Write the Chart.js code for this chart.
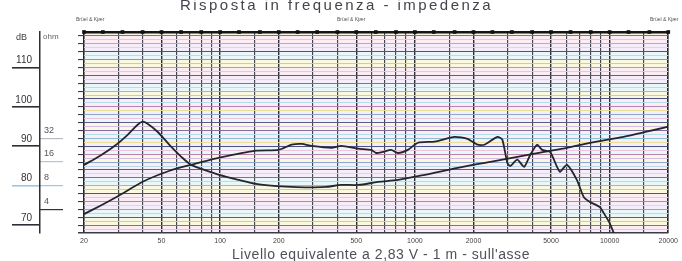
<!DOCTYPE html>
<html><head><meta charset="utf-8">
<script src="https://cdn.jsdelivr.net/npm/chart.js@4.4.0/dist/chart.umd.min.js"></script>
<style>
html,body{margin:0;padding:0;background:#fff;overflow:hidden}
#wrap{position:relative;width:682px;height:261px;overflow:hidden}
canvas{position:absolute;left:0;top:0}
.t{position:absolute;white-space:nowrap;font-family:"Liberation Sans",Arial,sans-serif;color:#3c3c44;line-height:1}
</style></head><body>
<div id="wrap">
<canvas id="c" width="682" height="261"></canvas>
<div class="t" id="title" data-w="313" style="left:180px;top:-3px;font-size:15px;color:#44444c">Risposta in frequenza - impedenza</div>
<div class="t" id="cap" data-w="298" style="left:232px;top:247px;font-size:14px;color:#505058">Livello equivalente a 2,83 V - 1 m - sull'asse</div>
<div class="t" style="left:16px;top:33px;font-size:9px">dB</div>
<div class="t" style="left:43px;top:33px;font-size:8px;color:#666">ohm</div>
<div class="t" style="left:76px;top:17px;font-size:5px;color:#555">Brüel &amp; Kjær</div>
<div class="t" style="left:337px;top:17px;font-size:5px;color:#555">Brüel &amp; Kjær</div>
<div class="t" style="left:650px;top:17px;font-size:5px;color:#555">Brüel &amp; Kjær</div>
</div>
<script>
// ---- data ----
const freqSPL = [20, 24, 30, 40, 55, 71, 99, 153, 200, 233, 263, 295, 373, 419, 512, 597, 632, 687, 755, 819, 920, 1036, 1264, 1600, 1864, 2097, 2276, 2651, 2812, 2981, 3090, 3354, 3641, 3908, 4242, 4498, 4944, 5366, 5558, 6036, 6786, 7366, 7908, 8892, 9316, 10000, 10604];
const splDb   = [72.8, 74.8, 77.4, 81.0, 83.8, 85.3, 87.1, 88.9, 89.1, 90.4, 90.6, 90.1, 89.6, 90.1, 89.4, 89.1, 88.3, 88.6, 89.1, 88.3, 89.1, 90.9, 91.2, 92.4, 91.9, 90.4, 90.4, 92.4, 91.7, 85.8, 85.0, 86.6, 84.8, 87.8, 90.4, 89.1, 88.6, 84.8, 83.5, 85.3, 81.5, 77.1, 75.9, 74.6, 73.1, 70.5, 67.5];
const freqZ   = [20, 24.1, 28.8, 33.5, 37.7, 40, 42.4, 47.7, 54.9, 63.2, 71.1, 82.9, 98.9, 125, 153, 189, 233, 284, 347, 419, 512, 647, 819, 1125, 1658, 2442, 3354, 4607, 6036, 7908, 11776, 15452, 20000];
const impOhm  = [14.7, 19.1, 25.7, 35.4, 47.5, 51.9, 48.9, 38.7, 26.4, 18.6, 14.7, 12.7, 11.0, 9.47, 8.42, 7.94, 7.71, 7.6, 7.71, 8.18, 8.18, 8.93, 9.47, 11.0, 13.5, 16.1, 18.6, 21.5, 24.2, 28.0, 33.4, 38.7, 44.8];
const xTickLabels = [20, 50, 100, 200, 500, 1000, 2000, 5000, 10000, 20000];
const xGridFreqs = [20,30,40,50,60,70,80,90,100,150,200,300,400,500,600,700,800,900,1000,1500,2000,3000,4000,5000,6000,7000,8000,9000,10000,15000,20000];
const thirdOctave = [20,25,31.5,40,50,63,80,100,125,160,200,250,315,400,500,630,800,1000,1250,1600,2000,2500,3150,4000,5000,6300,8000,10000,12500,16000,20000];
const dbTicks = [70, 80, 90, 100, 110];
const ohmTicks = [4, 8, 16, 32];
const DB_MIN = 68, DB_MAX = 119;
const OHM_REF = 8, DB_REF = 80;

// ---- text fitting ----
(function(){
  const m = document.createElement('canvas').getContext('2d');
  document.querySelectorAll('[data-w]').forEach(el=>{
    const cs = getComputedStyle(el);
    m.font = cs.fontSize + ' ' + cs.fontFamily;
    const nat = m.measureText(el.textContent).width;
    const n = el.textContent.length;
    el.style.letterSpacing = ((+el.dataset.w - nat) / n) + 'px';
  });
})();

Chart.defaults.font.family = '"Liberation Sans", Arial, sans-serif';
const ohmMin = OHM_REF * Math.pow(10, (DB_MIN - DB_REF) / 20);
const ohmMax = OHM_REF * Math.pow(10, (DB_MAX - DB_REF) / 20);

const hMid = ['#5f5a8c', '#8fa6cc', '#b585b0', '#4e5284', '#86bfd6', '#7d6fa6'];
const hPastel = ['#efc4da', '#e9de95', '#b4dcea', '#d3bce6'];
function hColor(v){
  if (v === DB_MAX) return '#15151a';
  if (v === DB_MIN) return '#3a3a48';
  const i = Math.round(v);
  if (i % 2 === 0) return hMid[(i / 2) % hMid.length];
  return hPastel[((i - 1) / 2) % hPastel.length];
}
function hWidth(v){ if (v === DB_MAX) return 2.4; if (v === DB_MIN) return 1.5; return v % 2 === 0 ? 1.1 : 1; }
function vColor(v){
  if (v === 20 || v === 20000) return '#22222a';
  return xTickLabels.includes(v) ? '#2c2c36' : '#44444f';
}

const bands = {
  id: 'bands',
  beforeDraw(chart){
    const {ctx, chartArea: a, scales: {y}} = chart;
    const cols = ['#fcedf4', '#fbf8e0', '#e9f6fa', '#f5eefa'];
    ctx.save();
    for (let v = DB_MIN; v < DB_MAX; v += 2) {
      const y1 = y.getPixelForValue(Math.min(v + 2, DB_MAX)), y0 = y.getPixelForValue(v);
      ctx.fillStyle = cols[((v - DB_MIN) / 2) % cols.length];
      ctx.fillRect(a.left, y1, a.right - a.left, y0 - y1);
    }
    ctx.restore();
  }
};

new Chart(document.getElementById('c'), {
  type: 'line',
  data: {
    datasets: [
      { label: 'SPL', data: freqSPL.map((f, i) => ({x: f, y: splDb[i]})), yAxisID: 'y',
        borderColor: '#25252e', borderWidth: 1.8, pointRadius: 0, tension: 0.2 },
      { label: 'Impedenza', data: freqZ.map((f, i) => ({x: f, y: impOhm[i]})), yAxisID: 'yo',
        borderColor: '#25252e', borderWidth: 1.8, pointRadius: 0, tension: 0.3 },
      { type: 'scatter', label: 'marks', data: thirdOctave.map(f => ({x: f, y: DB_MAX})), yAxisID: 'y',
        pointStyle: 'rect', pointRadius: 2.6, backgroundColor: '#111', borderWidth: 0, showLine: false, clip: false }
    ]
  },
  options: {
    responsive: false, devicePixelRatio: 1, animation: false, events: [],
    layout: { padding: { top: 32, right: 10, left: 0, bottom: 0 } },
    plugins: { legend: { display: false }, tooltip: { enabled: false }, title: { display: false } },
    scales: {
      x: {
        type: 'logarithmic', min: 20, max: 20000, position: 'bottom',
        afterBuildTicks: s => { s.ticks = xGridFreqs.map(v => ({value: v})); },
        afterFit: s => { s.height = 28; },
        ticks: { autoSkip: false, maxRotation: 0, minRotation: 0, padding: 4, color: '#444',
                 font: { size: 7 }, callback: v => xTickLabels.includes(v) ? String(v) : '' },
        grid: { color: c => vColor(c.tick.value),
                lineWidth: c => (c.tick.value === 20 || c.tick.value === 20000) ? 1.6 : (xTickLabels.includes(c.tick.value) ? 1.4 : 1.15),
                drawTicks: false },
        border: { display: false }
      },
      y: {
        type: 'linear', min: DB_MIN, max: DB_MAX, position: 'left', weight: 0,
        afterBuildTicks: s => { const t = []; for (let v = DB_MIN; v <= DB_MAX; v++) t.push({value: v}); s.ticks = t; },
        afterFit: s => { s.width = 21; },
        ticks: { display: false },
        grid: { color: c => hColor(c.tick.value), lineWidth: c => hWidth(c.tick.value), drawTicks: true, tickLength: 6,
                tickColor: c => (c.tick.value % 2 === 0 ? '#3a3a44' : 'rgba(0,0,0,0)') },
        border: { display: false }
      },
      yo: {
        type: 'logarithmic', min: ohmMin, max: ohmMax, position: 'left', weight: 1,
        afterBuildTicks: s => { s.ticks = ohmTicks.map(v => ({value: v})); },
        afterFit: s => { s.width = 23; },
        ticks: { mirror: true, padding: -19, labelOffset: -8, color: '#555', font: { size: 9 }, callback: v => String(v) },
        grid: { drawOnChartArea: false, drawTicks: true, tickLength: 23, lineWidth: 1.2,
                tickColor: c => ({4: '#333', 8: '#9cc8dc', 16: '#a9c9d8', 32: '#bbbbc4'})[c.tick.value] || '#666' },
        border: { display: false }
      },
      yl: {
        type: 'linear', min: DB_MIN, max: DB_MAX, position: 'left', weight: 2,
        afterBuildTicks: s => { s.ticks = dbTicks.map(v => ({value: v})); },
        afterFit: s => { s.width = 40; },
        ticks: { padding: -20, labelOffset: -7, color: '#333', font: { size: 10 }, crossAlign: 'near' },
        grid: { drawOnChartArea: false, drawTicks: true, tickLength: 28, lineWidth: 1.6,
                tickColor: c => c.tick.value === 80 ? '#9cc8dc' : '#2e2e36' },
        border: { display: true, color: '#2e2e36', width: 1.5 }
      }
    }
  },
  plugins: [bands]
});
</script>
</body></html>
